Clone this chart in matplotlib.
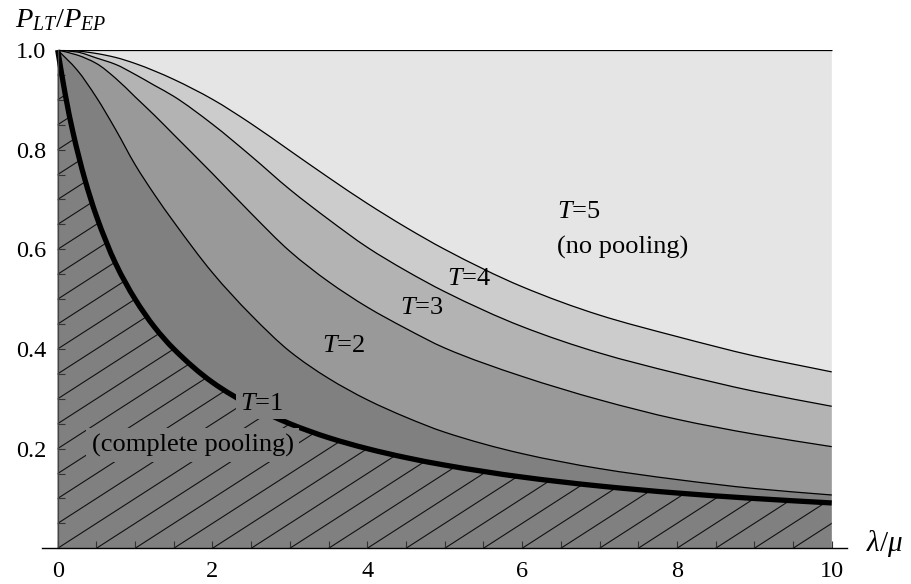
import matplotlib
matplotlib.use('Agg')
import matplotlib.pyplot as plt
import numpy as np
from matplotlib.collections import LineCollection
from matplotlib.patches import PathPatch
from matplotlib.path import Path

plt.rcParams['font.family'] = ['Liberation Serif', 'DejaVu Serif']
plt.rcParams['mathtext.fontset'] = 'custom'
plt.rcParams['mathtext.rm'] = 'Liberation Serif'
plt.rcParams['mathtext.it'] = 'Liberation Serif:italic'
plt.rcParams['mathtext.bf'] = 'Liberation Serif:bold'

# ---- data ----
x_t1 = [0, 0.1, 0.2, 0.35, 0.5, 0.75, 1, 1.25, 1.5, 2, 2.5, 3, 3.5, 4, 4.5, 5, 6, 7, 8, 9, 10]
t1 = [1.0, 0.909, 0.833, 0.741, 0.667, 0.571, 0.5, 0.444, 0.4, 0.333, 0.286, 0.25,
      0.222, 0.2, 0.182, 0.167, 0.143, 0.125, 0.111, 0.1, 0.091]

x_t = [0, 0.25, 0.5, 0.75, 1, 1.25, 1.5, 2, 2.5, 3, 3.5, 4, 4.5, 5, 6, 7, 8, 9, 10]
t2 = [1.0, 0.96, 0.905, 0.84, 0.77, 0.71, 0.655, 0.553, 0.468, 0.395, 0.341, 0.298,
      0.263, 0.233, 0.19, 0.16, 0.138, 0.12, 0.107]
t3 = [1.0, 0.99, 0.973, 0.943, 0.906, 0.869, 0.83, 0.752, 0.672, 0.596, 0.535, 0.484,
      0.441, 0.402, 0.345, 0.298, 0.259, 0.229, 0.204]
t4 = [1.0, 0.996, 0.984, 0.971, 0.951, 0.929, 0.907, 0.851, 0.787, 0.72, 0.66, 0.604,
      0.557, 0.515, 0.445, 0.392, 0.351, 0.315, 0.285]
t5 = [1.0, 0.998, 0.993, 0.985, 0.973, 0.958, 0.941, 0.901, 0.852, 0.798, 0.744, 0.692,
      0.644, 0.600, 0.525, 0.468, 0.425, 0.386, 0.354]

x_ticks = [0, 2, 4, 6, 8, 10]
y_ticks = [0.2, 0.4, 0.6, 0.8, 1.0]
y_ticklabels = ['0.2', '0.4', '0.6', '0.8', '1.0']


# ---- smooth (monotone cubic Bezier) rendering of the read points ----
def slopes(xs, ys):
    xs = np.asarray(xs, float)
    ys = np.asarray(ys, float)
    h = np.diff(xs)
    d = np.diff(ys) / h
    m = np.zeros_like(xs)
    m[0] = d[0]
    m[-1] = d[-1]
    for k in range(1, len(xs) - 1):
        if d[k - 1] * d[k] <= 0:
            m[k] = 0.0
        else:
            w1 = 2 * h[k] + h[k - 1]
            w2 = h[k] + 2 * h[k - 1]
            m[k] = (w1 + w2) / (w1 / d[k - 1] + w2 / d[k])
    return m


def bezier_verts(xs, ys):
    m = slopes(xs, ys)
    verts = [(xs[0], ys[0])]
    for i in range(len(xs) - 1):
        h = xs[i + 1] - xs[i]
        verts.append((xs[i] + h / 3, ys[i] + m[i] * h / 3))
        verts.append((xs[i + 1] - h / 3, ys[i + 1] - m[i + 1] * h / 3))
        verts.append((xs[i + 1], ys[i + 1]))
    return verts


def curve_path(xs, ys):
    v = bezier_verts(xs, ys)
    codes = [Path.MOVETO] + [Path.CURVE4] * (len(v) - 1)
    return Path(v, codes)


def band_path(xa, ya, xb, yb):
    """region between curve a (forward) and curve b (backward)"""
    va = bezier_verts(xa, ya)
    vb = bezier_verts(xb, yb)[::-1]
    verts = va + vb + [va[0]]
    codes = ([Path.MOVETO] + [Path.CURVE4] * (len(va) - 1) +
             [Path.LINETO] + [Path.CURVE4] * (len(vb) - 1) + [Path.CLOSEPOLY])
    return Path(verts, codes)


# ---- figure ----
W, H = 911, 584
fig = plt.figure(figsize=(W / 100, H / 100), dpi=100)
ax = fig.add_axes([42.2 / W, (H - 548.3) / H, 805 / W, 498.3 / H])
ax.set_xlim(-0.2, 10.2)
ax.set_ylim(0, 1.0)

ones = [1.0] * len(x_t)
zeros = [0.0] * len(x_t)
bands = [
    (t5, ones, '#e5e5e5'),
    (t4, t5, '#cccccc'),
    (t3, t4, '#b3b3b3'),
    (t2, t3, '#999999'),
    (zeros, t2, '#808080'),
]
for lo, hi, col in bands:
    p = band_path(x_t, hi, x_t, lo)
    ax.add_patch(PathPatch(p, facecolor=col, edgecolor=col, lw=0.3, zorder=1))

# hatch region under T=1 curve
clip_path = band_path(x_t1, t1, [x_t1[0], x_t1[-1]], [0.0, 0.0])
clip = PathPatch(clip_path, facecolor='none', edgecolor='none', transform=ax.transData)
ax.add_patch(clip)
segs = [[(x0, 0.0), (x0 + 12, 1.2)] for x0 in np.arange(-12, 10.01, 0.5)]
lc = LineCollection(segs, colors='#111111', linewidths=0.8, zorder=1.5)
ax.add_collection(lc)
lc.set_clip_path(clip)

for c in (t2, t3, t4, t5):
    ax.add_patch(PathPatch(curve_path(x_t, c), facecolor='none', edgecolor='black',
                           lw=0.9, zorder=3))
ax.hlines(1.0, x_t[0], x_t[-1], color='black', lw=0.9, zorder=3)
thick = PathPatch(curve_path(x_t1, t1), facecolor='none', edgecolor='black',
                  lw=3.8, capstyle='butt', zorder=4)
thick.set_clip_on(False)
ax.add_patch(thick)

# labels
fs = 19
box = dict(facecolor='#808080', edgecolor='none', pad=3)
ax.text(2.36, 0.29, '$T$=1', fontsize=fs, va='center', ha='left', zorder=6, bbox=box)
ax.text(0.44, 0.207, '(complete pooling)', fontsize=fs, va='center', ha='left',
        zorder=6, bbox=dict(facecolor='#808080', edgecolor='none', pad=4))
ax.text(3.42, 0.405, '$T$=2', fontsize=fs, va='center', ha='left', zorder=6)
ax.text(4.42, 0.482, '$T$=3', fontsize=fs, va='center', ha='left', zorder=6)
ax.text(5.03, 0.54, '$T$=4', fontsize=fs, va='center', ha='left', zorder=6)
ax.text(6.45, 0.675, '$T$=5', fontsize=fs, va='center', ha='left', zorder=6)
ax.text(6.45, 0.603, '(no pooling)', fontsize=fs, va='center', ha='left', zorder=6)

# axes styling
for s in ('top', 'right'):
    ax.spines[s].set_visible(False)
ax.spines['left'].set_position(('data', 0))
ax.spines['left'].set_bounds(0, 1.0)
ax.spines['left'].set_color('#444444')
ax.spines['left'].set_linewidth(0.9)
ax.spines['bottom'].set_linewidth(1.0)
ax.spines['left'].set_zorder(5)
ax.spines['bottom'].set_zorder(5)

ax.set_xticks(x_ticks)
ax.set_xticklabels([str(v) for v in x_ticks])
ax.set_xticks(np.arange(0, 10.01, 0.5), minor=True)
ax.set_yticks(y_ticks)
ax.set_yticklabels(y_ticklabels)
ax.set_yticks(np.arange(0.05, 1.0001, 0.05), minor=True)
ax.tick_params(which='both', direction='in', length=5, width=0.8, color='#333333',
               labelsize=17.5)
ax.tick_params(axis='x', which='both', pad=9)
ax.tick_params(axis='y', which='both', pad=8)

fig.text(15 / W, 1 - 27 / H, '$P_{LT}/P_{EP}$', fontsize=20.5, ha='left', va='baseline')
fig.text(866 / W, 1 - 551 / H, r'$\lambda/\mu$', fontsize=21, ha='left', va='baseline')

fig.savefig('out.png', dpi=100)
